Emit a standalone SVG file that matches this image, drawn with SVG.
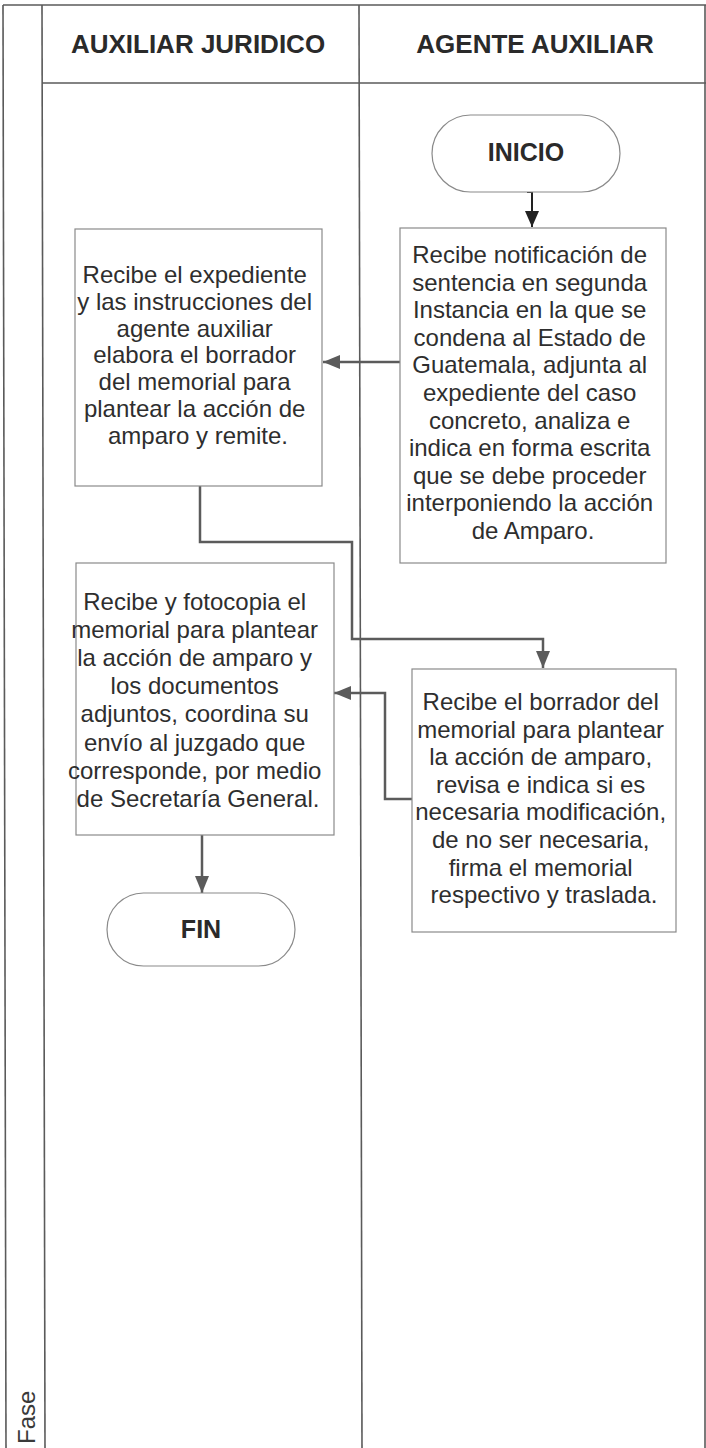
<svg xmlns="http://www.w3.org/2000/svg" width="706" height="1448" viewBox="0 0 706 1448">
<style>
.frame{fill:none;stroke:#5a5a5a;stroke-width:1.6}
.box{fill:#ffffff;stroke:#8a8a8a;stroke-width:1.2}
.term{fill:#ffffff;stroke:#8a8a8a;stroke-width:1.2}
.hdr{font-family:"Liberation Sans",Arial,sans-serif;font-weight:bold;font-size:26px;fill:#2a2a2a;text-anchor:middle}
.tt{font-family:"Liberation Sans",Arial,sans-serif;font-weight:bold;font-size:25px;fill:#2a2a2a;text-anchor:middle}
.bt{font-family:"Liberation Sans",Arial,sans-serif;font-size:24px;fill:#2e2e2e;text-anchor:middle}
.fase{font-family:"Liberation Sans",Arial,sans-serif;font-size:24px;fill:#3a3a3a}
.con{fill:none;stroke:#5b5b5b;stroke-width:2.5}
.con0{fill:none;stroke:#222222;stroke-width:2}
</style>
<defs>
<marker id="ah" markerUnits="userSpaceOnUse" markerWidth="18" markerHeight="16" refX="17" refY="7" orient="auto">
<path d="M0,0 L17,7 L0,14 Z" fill="#5b5b5b"/>
</marker>
<marker id="ah0" markerUnits="userSpaceOnUse" markerWidth="18" markerHeight="16" refX="16" refY="7" orient="auto">
<path d="M0,0 L16,7 L0,14 Z" fill="#222222"/>
</marker>
</defs>
<rect width="706" height="1448" fill="#ffffff"/>
<g id="frame">
<line class="frame" x1="3" y1="5" x2="706" y2="5"/>
<line class="frame" x1="3" y1="5" x2="6" y2="1448"/>
<line class="frame" x1="42" y1="5" x2="45" y2="1448"/>
<line class="frame" x1="359" y1="5" x2="362" y2="1448"/>
<line class="frame" x1="705" y1="5" x2="705" y2="1448"/>
<line class="frame" x1="42" y1="83" x2="706" y2="83"/>
<text class="fase" transform="translate(35,1444) rotate(-90)">Fase</text>
</g>
<g id="lane-headers">
<text class="hdr" x="198" y="53">AUXILIAR JURIDICO</text>
<text class="hdr" x="535" y="53">AGENTE AUXILIAR</text>
</g>
<g id="connectors">
<path class="con0" d="M527,192 H532 V227" marker-end="url(#ah0)"/>
<path class="con" d="M400,362 H323" marker-end="url(#ah)"/>
<path class="con" d="M200,486 V542 H352 V639 H543 V668" marker-end="url(#ah)"/>
<path class="con" d="M412,799 H385 V693 H334" marker-end="url(#ah)"/>
<path class="con" d="M202,835 V893" marker-end="url(#ah)"/>
</g>
<g id="inicio">
<rect class="term" x="432" y="115" width="188" height="77" rx="38.5" ry="38.5"/>
<text class="tt" x="526" y="161">INICIO</text>
</g>
<g id="box-recibe-notificacion">
<rect class="box" x="400" y="228" width="266" height="335"/>
<text class="bt" x="533">
<tspan x="533" y="263">Recibe notificación de</tspan>
<tspan x="533" y="290.6">sentencia en segunda</tspan>
<tspan x="533" y="318.2">Instancia en la que se</tspan>
<tspan x="533" y="345.8">condena al Estado de</tspan>
<tspan x="533" y="373.4">Guatemala, adjunta al</tspan>
<tspan x="533" y="401">expediente del caso</tspan>
<tspan x="533" y="428.6">concreto, analiza e</tspan>
<tspan x="533" y="456.2">indica en forma escrita</tspan>
<tspan x="533" y="483.8">que se debe proceder</tspan>
<tspan x="533" y="511.4">interponiendo la acción</tspan>
<tspan x="533" y="539">de Amparo.</tspan>
</text>
</g>
<g id="box-recibe-expediente">
<rect class="box" x="75" y="229" width="247" height="257"/>
<text class="bt">
<tspan x="198" y="283">Recibe el expediente</tspan>
<tspan x="198" y="309.8">y las instrucciones del</tspan>
<tspan x="198" y="336.6">agente auxiliar</tspan>
<tspan x="198" y="363.4">elabora el borrador</tspan>
<tspan x="198" y="390.2">del memorial para</tspan>
<tspan x="198" y="417">plantear la acción de</tspan>
<tspan x="198" y="443.8">amparo y remite.</tspan>
</text>
</g>
<g id="box-recibe-borrador">
<rect class="box" x="412" y="669" width="264" height="263"/>
<text class="bt">
<tspan x="544" y="710">Recibe el borrador del</tspan>
<tspan x="544" y="737.6">memorial para plantear</tspan>
<tspan x="544" y="765.2">la acción de amparo,</tspan>
<tspan x="544" y="792.8">revisa e indica si es</tspan>
<tspan x="544" y="820.4">necesaria modificación,</tspan>
<tspan x="544" y="848">de no ser necesaria,</tspan>
<tspan x="544" y="875.6">firma el memorial</tspan>
<tspan x="544" y="903.2">respectivo y traslada.</tspan>
</text>
</g>
<g id="box-fotocopia">
<rect class="box" x="76" y="563" width="258" height="272"/>
<text class="bt">
<tspan x="198" y="610">Recibe y fotocopia el</tspan>
<tspan x="198" y="638.1">memorial para plantear</tspan>
<tspan x="198" y="666.2">la acción de amparo y</tspan>
<tspan x="198" y="694.3">los documentos</tspan>
<tspan x="198" y="722.4">adjuntos, coordina su</tspan>
<tspan x="198" y="750.5">envío al juzgado que</tspan>
<tspan x="198" y="778.6">corresponde, por medio</tspan>
<tspan x="198" y="806.7">de Secretaría General.</tspan>
</text>
</g>
<g id="fin">
<rect class="term" x="107" y="893" width="188" height="73" rx="36.5" ry="36.5"/>
<text class="tt" x="201" y="938">FIN</text>
</g>
</svg>
